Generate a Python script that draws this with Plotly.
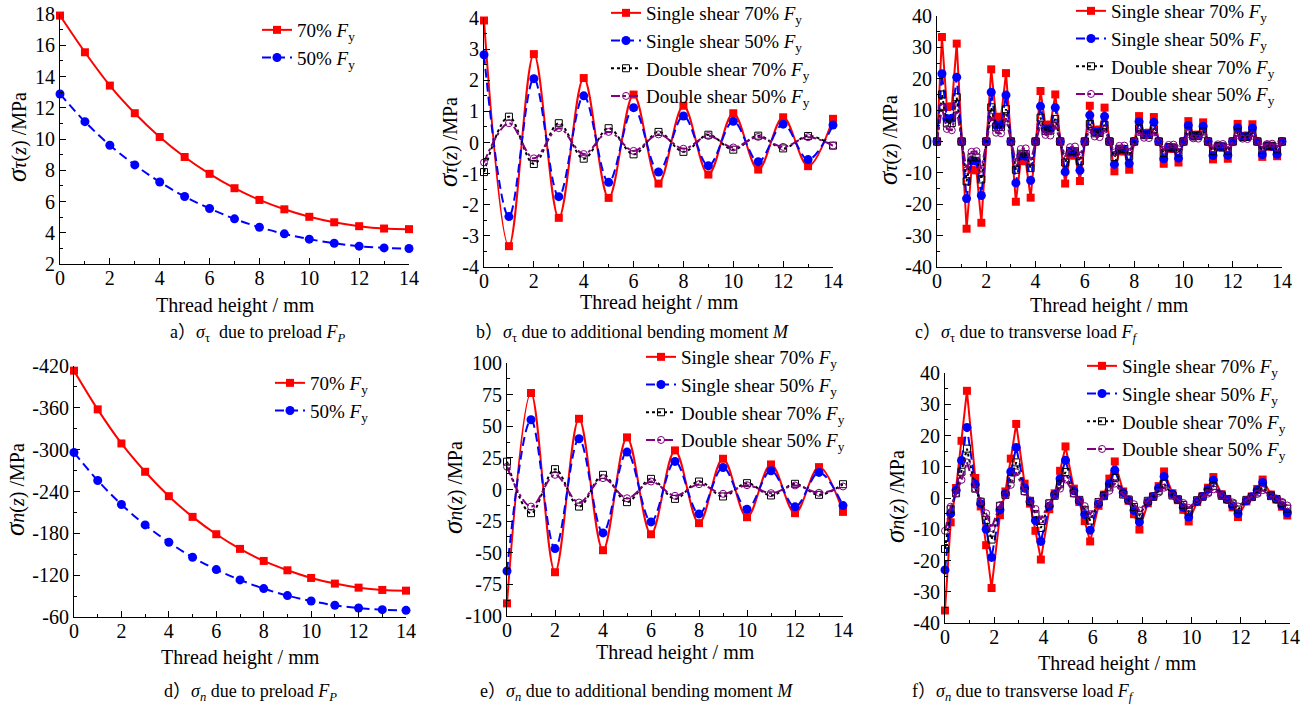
import plotly.graph_objects as go

W, H = 1316, 708

# ---------------- data ----------------
x_int = [0, 1, 2, 3, 4, 5, 6, 7, 8, 9, 10, 11, 12, 13, 14]

# a) sigma_tau due to preload
a_70 = [17.9, 15.55, 13.42, 11.65, 10.13, 8.85, 7.77, 6.85, 6.1, 5.5, 5.02, 4.67, 4.42, 4.27, 4.23]
a_50 = [12.88, 11.11, 9.6, 8.34, 7.25, 6.32, 5.55, 4.89, 4.35, 3.93, 3.59, 3.33, 3.14, 3.03, 2.99]

# b) sigma_tau due to additional bending moment
b_s70 = [3.92, -3.33, 2.84, -2.42, 2.07, -1.78, 1.54, -1.32, 1.18, -1.03, 0.94, -0.87, 0.81, -0.76, 0.76]
b_s50 = [2.82, -2.38, 2.05, -1.74, 1.50, -1.28, 1.12, -0.95, 0.85, -0.75, 0.68, -0.62, 0.59, -0.55, 0.56]
b_d70 = [-0.95, 0.83, -0.69, 0.62, -0.52, 0.46, -0.38, 0.34, -0.30, 0.25, -0.23, 0.22, -0.19, 0.21, -0.10]
b_d50 = [-0.64, 0.62, -0.51, 0.46, -0.37, 0.34, -0.27, 0.26, -0.20, 0.21, -0.16, 0.18, -0.14, 0.17, -0.10]

# c) sigma_tau due to transverse load
x_c = [0.0, 0.2, 0.4, 0.6, 0.8, 1.0, 1.2, 1.4, 1.6, 1.8, 2.0, 2.2, 2.4, 2.6, 2.8,
       3.0, 3.2, 3.4, 3.6, 3.8, 4.0, 4.2, 4.4, 4.6, 4.8, 5.0, 5.2, 5.4, 5.6, 5.8,
       6.0, 6.2, 6.4, 6.6, 6.8, 7.0, 7.2, 7.4, 7.6, 7.8, 8.0, 8.2, 8.4, 8.6, 8.8,
       9.0, 9.2, 9.4, 9.6, 9.8, 10.0, 10.2, 10.4, 10.6, 10.8, 11.0, 11.2, 11.4, 11.6, 11.8,
       12.0, 12.2, 12.4, 12.6, 12.8, 13.0, 13.2, 13.4, 13.6, 13.8, 14.0]
c_s70 = [0, 33.3, 11.0, 11.2, 31.2, 0, -27.8, -9.0, -9.2, -25.9, 0, 23.0, 7.8, 7.9, 21.8,
         0, -19.2, -6.2, -6.3, -17.9, 0, 16.1, 5.3, 5.4, 15.0, 0, -13.4, -4.4, -4.5, -12.6,
         0, 11.4, 3.7, 3.8, 10.8, 0, -9.5, -3.1, -3.2, -9.0, 0, 8.1, 2.7, 2.8, 7.8,
         0, -7.1, -2.3, -2.4, -6.7, 0, 6.5, 2.1, 2.2, 6.1, 0, -5.7, -1.9, -2.0, -5.5,
         0, 5.6, 1.8, 1.9, 5.5, 0, -4.9, -1.6, -1.7, -4.7, 0]
c_s50 = [0, 21.6, 7.3, 7.4, 20.5, 0, -18.2, -6.2, -6.3, -17.2, 0, 15.7, 5.2, 5.3, 14.8,
         0, -13.2, -4.6, -4.7, -12.4, 0, 11.2, 4.0, 4.1, 10.8, 0, -9.7, -3.4, -3.5, -9.2,
         0, 8.4, 3.0, 3.1, 8.0, 0, -7.3, -2.6, -2.7, -7.0, 0, 6.3, 2.3, 2.4, 6.1,
         0, -5.5, -2.0, -2.1, -5.3, 0, 5.1, 1.8, 1.9, 4.9, 0, -4.5, -1.6, -1.7, -4.4,
         0, 4.4, 1.5, 1.6, 4.3, 0, -4.2, -1.4, -1.5, -4.1, 0]
c_d70 = [0, 15.0, 5.8, 5.9, 14.1, 0, -12.7, -5.0, -5.1, -12.1, 0, 10.9, 4.5, 4.6, 10.3,
         0, -9.0, -3.9, -4.0, -8.5, 0, 7.6, 3.4, 3.5, 7.2, 0, -6.7, -3.0, -3.1, -6.3,
         0, 5.6, 2.6, 2.7, 5.3, 0, -5.0, -2.3, -2.4, -4.7, 0, 4.2, 2.0, 2.1, 4.0,
         0, -3.7, -1.8, -1.9, -3.5, 0, 3.4, 1.6, 1.7, 3.2, 0, -3.1, -1.5, -1.6, -2.9,
         0, 2.9, 1.4, 1.5, 2.7, 0, -2.7, -1.3, -1.4, -2.5, 0]
c_d50 = [0, 10.8, 4.0, 3.6, 10.2, 0, -9.2, -3.3, -3.1, -8.7, 0, 7.8, 2.8, 2.6, 7.4,
         0, -6.5, -2.4, -2.2, -6.2, 0, 5.4, 2.1, 1.9, 5.1, 0, -4.8, -1.8, -1.6, -4.5,
         0, 4.0, 1.6, 1.4, 3.8, 0, -3.5, -1.4, -1.3, -3.3, 0, 3.0, 1.2, 1.1, 2.9,
         0, -2.7, -1.1, -1.0, -2.5, 0, 2.4, 1.0, 0.9, 2.3, 0, -2.2, -0.9, -0.8, -2.1,
         0, 2.0, 0.9, 0.8, 1.9, 0, -1.9, -0.8, -0.7, -1.8, 0]

# d) sigma_n due to preload
d_70 = [-413.3, -357.8, -308.9, -268.3, -233.3, -203.6, -178.7, -157.7, -140.4, -127.0, -116.0, -107.9, -102.1, -98.8, -97.8]
d_50 = [-296.0, -255.8, -221.3, -192.1, -167.2, -145.7, -128.0, -113.2, -100.7, -90.7, -83.0, -76.8, -72.9, -70.5, -69.6]

# e) sigma_n due to additional bending moment
e_s70 = [-90.0, 76.3, -65.4, 55.9, -48.0, 41.2, -35.4, 30.9, -26.6, 24.3, -21.9, 19.8, -18.7, 17.7, -17.7]
e_s50 = [-64.4, 55.1, -46.7, 40.1, -34.3, 29.6, -25.6, 22.2, -19.3, 17.4, -15.6, 14.8, -13.7, 13.5, -12.7]
e_d70 = [22.0, -18.7, 16.1, -13.5, 11.6, -10.0, 8.4, -7.4, 6.3, -5.5, 5.0, -4.7, 4.5, -4.2, 4.2]
e_d50 = [18.0, -13.5, 11.6, -10.3, 9.0, -6.9, 6.3, -5.0, 4.2, -3.4, 3.4, -2.9, 3.2, -2.6, 2.4]

# f) sigma_n due to transverse load
x_f = [0.0,
       0.23, 0.45, 0.67, 0.89, 1.23, 1.45, 1.67, 1.89, 2.23, 2.45, 2.67, 2.89,
       3.23, 3.45, 3.67, 3.89, 4.23, 4.45, 4.67, 4.89, 5.23, 5.45, 5.67, 5.89,
       6.23, 6.45, 6.67, 6.89, 7.23, 7.45, 7.67, 7.89, 8.23, 8.45, 8.67, 8.89,
       9.23, 9.45, 9.67, 9.89, 10.23, 10.45, 10.67, 10.89, 11.23, 11.45, 11.67, 11.89,
       12.23, 12.45, 12.67, 12.89, 13.23, 13.45, 13.67, 13.89]
f_s70 = [-36.0,
         -7.8, 3.2, 18.3, 34.3, 6.4, -2.7, -15.1, -28.8, -5.5, 2.1, 12.6, 23.7,
         4.6, -1.8, -10.5, -19.7, -3.6, 1.5, 8.7, 16.5, 3.0, -1.3, -7.4, -13.9,
         -2.5, 1.1, 6.2, 11.7, 2.1, -0.9, -5.2, -10.1, -1.7, 0.5, 3.8, 8.5,
         1.5, -0.7, -3.8, -7.5, -1.3, 0.6, 3.3, 6.7, 1.2, -0.5, -3.0, -6.1,
         -1.1, 0.5, 2.9, 5.9, 1.1, -0.5, -2.8, -5.6]
f_s50 = [-23.0,
         -5.0, 2.5, 12.0, 22.6, 4.4, -1.8, -10.0, -19.0, -3.8, 1.4, 8.4, 16.2,
         3.2, -1.2, -7.2, -13.9, -2.6, 1.1, 6.2, 12.1, 2.3, -0.9, -5.3, -10.3,
         -1.9, 0.8, 4.6, 8.9, 1.7, -0.7, -4.0, -7.7, -1.4, 0.5, 3.2, 6.9,
         1.3, -0.5, -3.0, -6.1, -1.1, 0.5, 2.8, 5.7, 1.0, -0.5, -2.5, -5.0,
         -0.9, 0.4, 2.5, 5.0, 0.9, -0.4, -2.4, -4.8]
f_d70 = [-16.3,
         -3.6, 1.5, 8.4, 15.8, 3.0, -1.2, -7.0, -13.3, -2.5, 1.0, 6.0, 11.4,
         2.2, -0.9, -5.1, -9.6, -1.7, 0.7, 4.4, 8.3, 1.5, -0.6, -3.8, -7.2,
         -1.3, 0.6, 3.4, 6.4, 1.1, -0.5, -2.9, -5.5, -0.9, 0.4, 2.3, 4.6,
         0.8, -0.4, -2.2, -4.4, -0.7, 0.4, 2.0, 3.9, 0.7, -0.3, -1.8, -3.7,
         -0.6, 0.3, 1.8, 3.5, 0.6, -0.3, -1.7, -3.4]
f_d50 = [-10.5,
         -2.8, 1.5, 5.8, 11.4, 3.0, -1.0, -4.9, -9.6, -2.3, 0.9, 4.2, 8.2,
         2.0, -0.8, -3.5, -6.9, -1.6, 0.7, 3.0, 5.9, 1.4, -0.6, -2.6, -5.2,
         -1.2, 0.5, 2.3, 4.6, 1.1, -0.4, -2.0, -4.0, -0.9, 0.4, 1.7, 3.3,
         0.8, -0.3, -1.6, -3.2, -0.7, 0.3, 1.4, 2.8, 0.7, -0.3, -1.4, -2.7,
         -0.6, 0.3, 1.3, 2.5, 0.6, -0.2, -1.2, -2.4]

# tick labels
x_ticks = [0, 2, 4, 6, 8, 10, 12, 14]
x_ticktext = ["0", "2", "4", "6", "8", "10", "12", "14"]
a_ticks = [2, 4, 6, 8, 10, 12, 14, 16, 18]
a_ticktext = ["2", "4", "6", "8", "10", "12", "14", "16", "18"]
b_ticks = [-4, -3, -2, -1, 0, 1, 2, 3, 4]
b_ticktext = ["-4", "-3", "-2", "-1", "0", "1", "2", "3", "4"]
c_ticks = [-40, -30, -20, -10, 0, 10, 20, 30, 40]
c_ticktext = ["-40", "-30", "-20", "-10", "0", "10", "20", "30", "40"]
d_ticks = [-420, -360, -300, -240, -180, -120, -60]
d_ticktext = ["-420", "-360", "-300", "-240", "-180", "-120", "-60"]
e_ticks = [-100, -75, -50, -25, 0, 25, 50, 75, 100]
e_ticktext = ["-100", "-75", "-50", "-25", "0", "25", "50", "75", "100"]
f_ticks = c_ticks
f_ticktext = c_ticktext

# ---------------- styling ----------------
FONT = "Liberation Serif"
CJK = "Liberation Serif, Noto Sans CJK SC"
RED, BLUE, BLACK, PURPLE = "#FF0000", "#0000FF", "#000000", "#800080"
FY = "<i>F</i><sub>y</sub>"

STY = {
    "s70": dict(line=dict(color=RED, width=2), marker=dict(symbol="square", size=8, color=RED)),
    "s50": dict(line=dict(color=BLUE, width=2, dash="9px,5px"), marker=dict(symbol="circle", size=9, color=BLUE)),
    "d70": dict(line=dict(color=BLACK, width=2, dash="dot"),
                marker=dict(symbol="square-open", size=7, color=BLACK, line=dict(width=1))),
    "d50": dict(line=dict(color=PURPLE, width=2, dash="dashdot"),
                marker=dict(symbol="circle-open", size=7, color=PURPLE, line=dict(width=1))),
}

fig = go.Figure()

# pixel boxes (left, right, top, bottom)
boxes = {
    1: (60, 409, 14, 264),
    2: (484, 833, 18, 267),
    3: (937, 1282, 16, 267),
    4: (74, 406, 366, 617),
    5: (507, 843, 363, 616),
    6: (945, 1290, 373, 623),
}


def px_x(p):
    return p / W


def px_y(p):
    return 1 - p / H


def add(i, x, y, key, name, shape):
    st = STY[key]
    fig.add_trace(go.Scatter(
        x=x, y=y, mode="lines+markers", name=name,
        line=dict(shape=shape, **st["line"]), marker=st["marker"],
        xaxis="x" if i == 1 else f"x{i}", yaxis="y" if i == 1 else f"y{i}",
        legend="legend" if i == 1 else f"legend{i}", cliponaxis=False,
    ))


# a
add(1, x_int, a_70, "s70", "70% " + FY, "spline")
add(1, x_int, a_50, "s50", "50% " + FY, "spline")
# b
add(2, x_int, b_s70, "s70", "Single shear 70% " + FY, "spline")
add(2, x_int, b_s50, "s50", "Single shear 50% " + FY, "spline")
add(2, x_int, b_d70, "d70", "Double shear 70% " + FY, "spline")
add(2, x_int, b_d50, "d50", "Double shear 50% " + FY, "spline")
# c
add(3, x_c, c_s70, "s70", "Single shear 70% " + FY, "linear")
add(3, x_c, c_s50, "s50", "Single shear 50% " + FY, "linear")
add(3, x_c, c_d70, "d70", "Double shear 70% " + FY, "linear")
add(3, x_c, c_d50, "d50", "Double shear 50% " + FY, "linear")
# d
add(4, x_int, d_70, "s70", "70% " + FY, "spline")
add(4, x_int, d_50, "s50", "50% " + FY, "spline")
# e
add(5, x_int, e_s70, "s70", "Single shear 70% " + FY, "spline")
add(5, x_int, e_s50, "s50", "Single shear 50% " + FY, "spline")
add(5, x_int, e_d70, "d70", "Double shear 70% " + FY, "spline")
add(5, x_int, e_d50, "d50", "Double shear 50% " + FY, "spline")
# f
add(6, x_f, f_s70, "s70", "Single shear 70% " + FY, "linear")
add(6, x_f, f_s50, "s50", "Single shear 50% " + FY, "linear")
add(6, x_f, f_d70, "d70", "Double shear 70% " + FY, "linear")
add(6, x_f, f_d50, "d50", "Double shear 50% " + FY, "linear")

yspec = {
    1: ([2, 18], a_ticks, a_ticktext, 1),
    2: ([-4, 4], b_ticks, b_ticktext, 0.5),
    3: ([-40, 40], c_ticks, c_ticktext, 5),
    4: ([-60, -420], d_ticks, d_ticktext, 30),
    5: ([-100, 100], e_ticks, e_ticktext, 12.5),
    6: ([-40, 40], f_ticks, f_ticktext, 5),
}

layout = dict(
    width=W, height=H, autosize=False,
    margin=dict(l=0, r=0, t=0, b=0, autoexpand=False),
    paper_bgcolor="white", plot_bgcolor="white",
    font=dict(family=FONT, size=20, color="black"),
    showlegend=True,
)

axis_common = dict(
    showgrid=False, zeroline=False, showline=True, linecolor="black", linewidth=1,
    ticks="inside", ticklen=6, tickwidth=1, tickcolor="black",
    tickfont=dict(family=FONT, size=20, color="black"), mirror=False,
)

for i, (l, r, t, b) in boxes.items():
    xs = "xaxis" if i == 1 else f"xaxis{i}"
    ys = "yaxis" if i == 1 else f"yaxis{i}"
    yrange, yt, ytt, ymin = yspec[i]
    layout[xs] = dict(
        domain=[px_x(l), px_x(r)], range=[0, 14], anchor="y" if i == 1 else f"y{i}",
        tickmode="array", tickvals=x_ticks, ticktext=x_ticktext, ticklabelstandoff=-4,
        minor=dict(dtick=1, tick0=0, ticks="inside", ticklen=3, tickcolor="black", tickwidth=1),
        **axis_common,
    )
    layout[ys] = dict(
        domain=[px_y(b), px_y(t)], range=yrange, anchor="x" if i == 1 else f"x{i}",
        tickmode="array", tickvals=yt, ticktext=ytt,
        minor=dict(dtick=ymin, tick0=0, ticks="inside", ticklen=3, tickcolor="black", tickwidth=1),
        **axis_common,
    )

# legends: (text start x, first-row centre y)
leg_pos = {1: (298, 29), 2: (647, 12), 3: (1112, 10), 4: (311, 382), 5: (682, 356), 6: (1123, 365)}
for i, (tx, ry) in leg_pos.items():
    key = "legend" if i == 1 else f"legend{i}"
    layout[key] = dict(
        x=px_x(tx - 41), y=px_y(ry - 18), xanchor="left", yanchor="top",
        bgcolor="rgba(0,0,0,0)", borderwidth=0,
        font=dict(family=FONT, size=19, color="black"),
        itemsizing="trace", tracegroupgap=0,
    )

fig.update_layout(**layout)

# axis titles and captions
sig_tau = "<span style='font-size:27px'><i>σ</i></span><i>τ</i>(<i>z</i>) /MPa"
sig_n = "<span style='font-size:27px'><i>σ</i></span><i>n</i>(<i>z</i>) /MPa"
xt = "Thread height / mm"
ytitle_pos = {1: (17, 137, sig_tau), 2: (448, 142, sig_tau), 3: (888, 140, sig_tau),
              4: (15, 490, sig_n), 5: (453, 488, sig_n), 6: (895, 497, sig_n)}
xtitle_pos = {1: (235, 305), 2: (659, 302), 3: (1109, 306), 4: (240, 657), 5: (675, 652), 6: (1117, 663)}
captions = {
    1: (257, 334, "a）<i>σ</i><sub>τ</sub>  due to preload <i>F</i><sub><i>P</i></sub>"),
    2: (632, 334, "b）<i>σ</i><sub>τ</sub> due to additional bending moment <i>M</i>"),
    3: (1026, 334, "c）<i>σ</i><sub>τ</sub> due to transverse load <i>F</i><sub><i>f</i></sub>"),
    4: (250, 692, "d）<i>σ</i><sub><i>n</i></sub> due to preload <i>F</i><sub><i>P</i></sub>"),
    5: (636, 692, "e）<i>σ</i><sub><i>n</i></sub> due to additional bending moment <i>M</i>"),
    6: (1023, 692, "f）<i>σ</i><sub><i>n</i></sub> due to transverse load <i>F</i><sub><i>f</i></sub>"),
}
ann = []
for i in boxes:
    x, y, t = ytitle_pos[i]
    ann.append(dict(x=px_x(x), y=px_y(y), xref="paper", yref="paper", text=t, textangle=-90,
                    showarrow=False, xanchor="center", yanchor="middle",
                    font=dict(family=FONT, size=20, color="black")))
    x, y = xtitle_pos[i]
    ann.append(dict(x=px_x(x), y=px_y(y), xref="paper", yref="paper", text=xt,
                    showarrow=False, xanchor="center", yanchor="middle",
                    font=dict(family=FONT, size=20, color="black")))
    x, y, t = captions[i]
    ann.append(dict(x=px_x(x), y=px_y(y), xref="paper", yref="paper", text=t,
                    showarrow=False, xanchor="center", yanchor="middle",
                    font=dict(family=CJK, size=18, color="black")))
fig.update_layout(annotations=ann)

fig.write_html("out.html")
